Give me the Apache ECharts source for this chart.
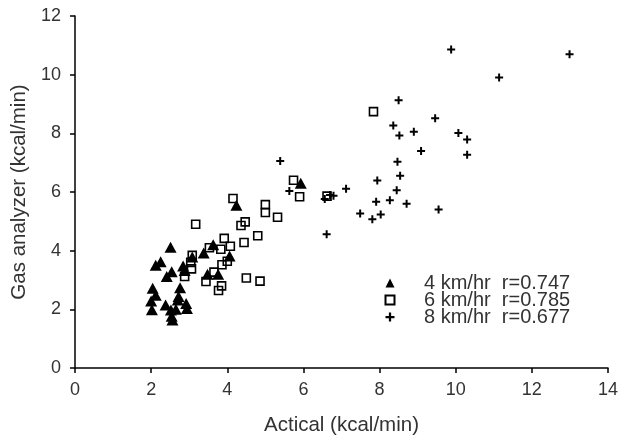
<!DOCTYPE html>
<html>
<head>
<meta charset="utf-8">
<script src="https://cdn.jsdelivr.net/npm/echarts@6/dist/echarts.min.js"></script>
<style>html,body{margin:0;padding:0;background:#fff;}#c{width:631px;height:437px;}</style>
</head>
<body>
<div id="c"></div>
<script>
// Series names (legend labels)
var seriesNames = ['4 km/hr  r=0.747', '6 km/hr  r=0.785', '8 km/hr  r=0.677'];

// 4 km/hr: [Actical, Gas analyzer]
var walk4 = [
  [2.51,4.12],[2.25,3.62],[2.12,3.50],[2.41,3.12],[2.54,3.28],[2.04,2.72],[2.12,2.48],
  [2.00,2.28],[2.02,1.99],[2.38,2.15],[2.52,1.98],[2.54,1.76],[2.56,1.64],[2.65,2.00],
  [2.76,2.74],[2.72,2.44],[2.70,2.32],[2.92,2.20],[2.94,2.03],[2.84,3.48],[2.88,3.32],
  [3.08,3.78],[3.38,3.92],[3.63,4.20],[3.48,3.20],[3.76,3.20],[4.06,3.82],[4.24,5.55],
  [5.93,6.30]
];
// 6 km/hr
var walk6 = [
  [7.84,8.74],[5.74,6.40],[5.90,5.84],[6.62,5.86],[4.15,5.78],[5.00,5.57],[5.00,5.30],
  [5.32,5.14],[3.17,4.90],[4.47,4.98],[4.36,4.86],[3.92,4.42],[4.80,4.51],[4.44,4.28],
  [4.08,4.15],[3.53,4.10],[3.83,4.05],[3.08,3.84],[3.04,3.60],[4.00,3.64],[3.86,3.52],
  [3.06,3.38],[3.65,3.27],[2.88,3.12],[3.44,2.95],[4.50,3.07],[4.86,2.96],[3.85,2.80],
  [3.77,2.64]
];
// 8 km/hr
var walk8 = [
  [9.88,10.86],[12.99,10.70],[11.14,9.90],[8.50,9.13],[9.46,8.51],[8.36,8.27],[8.90,8.05],
  [8.52,7.93],[10.07,8.01],[10.30,7.79],[9.09,7.40],[10.30,7.27],[5.39,7.06],[8.47,7.03],
  [8.54,6.55],[7.94,6.39],[5.63,6.03],[7.12,6.11],[8.45,6.06],[6.70,5.90],[6.79,5.87],
  [6.56,5.76],[7.91,5.67],[8.27,5.72],[8.71,5.60],[9.55,5.40],[7.49,5.27],[8.03,5.23],
  [7.81,5.07],[6.61,4.56]
];

var xTitle = 'Actical (kcal/min)';
var yTitle = 'Gas analyzer (kcal/min)';

var FONT = '"Liberation Sans", Arial, sans-serif';
var TXT = '#333';
var crossPath = 'path://M3,0h2v3h3v2h-3v3h-2v-3h-3v-2h3z';

var chart = echarts.init(document.getElementById('c'), null, {renderer: 'canvas'});
chart.setOption({
  animation: false,
  backgroundColor: '#fff',
  grid: {left: 75, right: 23, top: 16, bottom: 69, containLabel: false, outerBoundsMode: 'none'},
  legend: {
    orient: 'vertical',
    left: 379.5, top: 268,
    padding: 5,
    itemWidth: 9, itemHeight: 9, itemGap: -3,
    textStyle: {fontFamily: FONT, fontSize: 20, color: TXT, padding: [0,0,0,24.5]},
    data: seriesNames
  },
  xAxis: {
    type: 'value', min: 0, max: 14, interval: 2,
    name: xTitle, nameLocation: 'middle', nameGap: 47,
    nameTextStyle: {fontFamily: FONT, fontSize: 20.5, color: TXT},
    axisLine: {show: true, onZero: false, lineStyle: {color: '#000', width: 1.5}},
    axisTick: {show: true, inside: false, length: 5, lineStyle: {color: '#000', width: 1.5}},
    axisLabel: {fontFamily: FONT, fontSize: 18, color: TXT, margin: 13},
    splitLine: {show: false}
  },
  yAxis: {
    type: 'value', min: 0, max: 12, interval: 2,
    name: yTitle, nameLocation: 'middle', nameGap: 44,
    nameTextStyle: {fontFamily: FONT, fontSize: 20.5, color: TXT},
    axisLine: {show: true, onZero: false, lineStyle: {color: '#000', width: 1.5}},
    axisTick: {show: true, inside: false, length: 5, lineStyle: {color: '#000', width: 1.5}},
    axisLabel: {fontFamily: FONT, fontSize: 18, color: TXT, margin: 14},
    splitLine: {show: false}
  },
  series: [
    {
      name: seriesNames[0], type: 'scatter', data: walk4, z: 4,
      symbol: 'triangle', symbolSize: [12, 11],
      itemStyle: {color: '#000', opacity: 1}
    },
    {
      name: seriesNames[1], type: 'scatter', data: walk6, z: 3,
      symbol: 'rect', symbolSize: 8,
      itemStyle: {color: 'rgba(255,255,255,0)', borderColor: '#000', borderWidth: 1.6, opacity: 1}
    },
    {
      name: seriesNames[2], type: 'scatter', data: walk8, z: 3,
      symbol: crossPath, symbolSize: 8,
      itemStyle: {color: '#000', opacity: 1}
    }
  ]
});
</script>
</body>
</html>
